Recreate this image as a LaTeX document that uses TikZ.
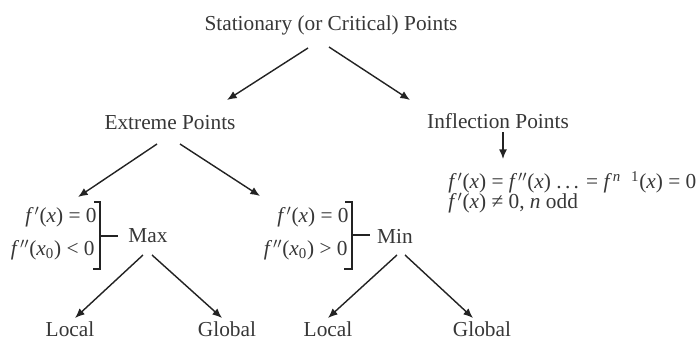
\documentclass[tikz,border=0pt]{standalone}
\usepackage{fontspec}
\setmainfont{Liberation Serif}
\usetikzlibrary{arrows.meta,calc,positioning}
\definecolor{DiagInk}{RGB}{55,55,55}
\definecolor{DiagLine}{RGB}{35,35,35}
\newcommand{\fv}{\textit{f}\kern0.5pt}
\newcommand{\xv}{\textit{x}}
\newcommand{\pr}{$'$}
\newcommand{\ppr}{$''$}

\begin{document}
\begin{tikzpicture}[x=0.6pt,y=-0.6pt,>={Latex[length=5.8pt,width=4.8pt]},
  lbl/.style={inner sep=0pt,text=DiagInk,font=\fontsize{12.8}{15}\selectfont},
  arr/.style={->,DiagLine,line width=0.85pt},
  brk/.style={DiagLine,line width=1.2pt}]
\useasboundingbox (0,0) rectangle (699,340);

% top level
\node[lbl] (stat) at (331,25) {Stationary (or Critical) Points};
\node[lbl] (ext) at (170,123) {Extreme Points};
\node[lbl] (infl) at (498,121) {Inflection Points};

% inflection conditions
\node[lbl,anchor=west] (icond1) at (448,182) {\fv\pr(\xv) = \fv\ppr(\xv) .\kern2pt.\kern2pt. = \fv\textsuperscript{\textit{n}}\kern6pt\textsuperscript{1}(\xv) = 0};
\node[lbl,anchor=west] (icond2) at (448,203) {\fv\pr(\xv) ≠ 0, \textit{n} odd};

% max / min conditions
\node[lbl,anchor=east] (maxc1) at (97,217) {\fv\pr(\xv) = 0};
\node[lbl,anchor=east] (maxc2) at (95,250) {\fv\ppr(\xv\textsubscript{0}) < 0};
\node[lbl] (max) at (148,236) {Max};
\node[lbl,anchor=east] (minc1) at (349,217) {\fv\pr(\xv) = 0};
\node[lbl,anchor=east] (minc2) at (348,250) {\fv\ppr(\xv\textsubscript{0}) > 0};
\node[lbl] (min) at (395,236) {Min};

% leaves
\node[lbl] (loca) at (70,329) {Local};
\node[lbl] (globa) at (227,329) {Global};
\node[lbl] (locb) at (328,329) {Local};
\node[lbl] (globb) at (482,329) {Global};

% brackets
\draw[brk] (94,202) -- (100,202) -- (100,269) -- (93,269);
\draw[brk] (100,236) -- (118,236);
\draw[brk] (345,202) -- (352,202) -- (352,269) -- (344,269);
\draw[brk] (352,235) -- (370,235);

% arrows
\draw[arr] ($(stat)+(-23,23)$) -- ($(ext)+(57,-23)$);
\draw[arr] ($(stat)+(-2,22)$) -- ($(infl)+(-88,-21)$);
\draw[arr] ($(infl)+(5,11)$) -- ($(icond1.west)+(55,-23)$);
\draw[arr] ($(ext)+(-13,21)$) -- ($(maxc1)+(17,-20)$);
\draw[arr] ($(ext)+(10,21)$) -- ($(minc1)+(-53,-21)$);
\draw[arr] ($(max)+(-5,19)$) -- ($(loca)+(5,-11)$);
\draw[arr] ($(max)+(4,19)$) -- ($(globa)+(-5,-11)$);
\draw[arr] ($(min)+(2,19)$) -- ($(locb)+(0,-11)$);
\draw[arr] ($(min)+(10,19)$) -- ($(globb)+(-9,-11)$);
\end{tikzpicture}
\end{document}
